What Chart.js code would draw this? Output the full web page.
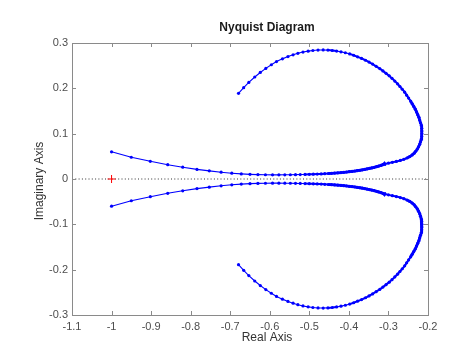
<!DOCTYPE html>
<html><head><meta charset="utf-8">
<script src="https://cdn.jsdelivr.net/npm/chart.js@4/dist/chart.umd.min.js"></script>
<style>html,body{margin:0;padding:0;background:#fff}</style>
</head><body>
<canvas id="c" width="474" height="355"></canvas>
<script>
// ---- data ----
const xTickValues = [-1.1, -1.0, -0.9, -0.8, -0.7, -0.6, -0.5, -0.4, -0.3, -0.2];
const yTickValues = [-0.3, -0.2, -0.1, 0, 0.1, 0.2, 0.3];

// upper branch (positive imaginary part)
const reUpper = [
 -1.000, -0.950, -0.902, -0.858, -0.820, -0.784, -0.753, -0.723, -0.696, -0.672,
 -0.650, -0.630, -0.611, -0.593, -0.577, -0.562, -0.548, -0.535, -0.523, -0.511,
 -0.500, -0.490, -0.480, -0.470, -0.461, -0.452, -0.444, -0.436, -0.428, -0.420,
 -0.413, -0.406, -0.399, -0.392, -0.385, -0.379, -0.372, -0.366, -0.360, -0.354,
 -0.348, -0.342, -0.336, -0.330, -0.325, -0.319, -0.314, -0.309,
 -0.300, -0.290, -0.280, -0.270, -0.261, -0.253, -0.246, -0.240, -0.235, -0.231,
 -0.227, -0.224, -0.221, -0.219, -0.217, -0.216, -0.2155, -0.2155, -0.216, -0.217,
 -0.219, -0.221, -0.223, -0.226, -0.229, -0.232, -0.236, -0.240, -0.244, -0.249,
 -0.254, -0.259, -0.265, -0.271, -0.277, -0.284, -0.291, -0.298, -0.306, -0.314,
 -0.322, -0.331, -0.340, -0.349, -0.358, -0.368, -0.378, -0.388, -0.398, -0.409,
 -0.420, -0.431, -0.442, -0.453, -0.465, -0.478, -0.491, -0.503, -0.516, -0.529,
 -0.541, -0.554, -0.568, -0.583, -0.596, -0.610, -0.624, -0.638, -0.653, -0.666,
 -0.679
];
const imUpper = [
 0.0600, 0.0480, 0.0390, 0.0315, 0.0260, 0.0212, 0.0180, 0.0150, 0.0128, 0.0113,
 0.0103, 0.0097, 0.0094, 0.0092, 0.0092, 0.0093, 0.0094, 0.0096, 0.0098, 0.0100,
 0.0103, 0.0106, 0.0109, 0.0113, 0.0117, 0.0121, 0.0126, 0.0131, 0.0136, 0.0142,
 0.0148, 0.0154, 0.0161, 0.0168, 0.0176, 0.0184, 0.0193, 0.0202, 0.0212, 0.0222,
 0.0233, 0.0245, 0.0258, 0.0271, 0.0285, 0.0300, 0.0316, 0.0332,
 0.0350, 0.0368, 0.0388, 0.0410, 0.0435, 0.0463, 0.0495, 0.0530, 0.0570, 0.0612,
 0.0660, 0.0710, 0.0765, 0.0820, 0.0880, 0.0940, 0.1000, 0.1060, 0.1120, 0.1180,
 0.1240, 0.1300, 0.1360, 0.1420, 0.1480, 0.1540, 0.1600, 0.1660, 0.1720, 0.1785,
 0.1850, 0.1915, 0.1980, 0.2040, 0.2100, 0.2160, 0.2220, 0.2275, 0.2330, 0.2385,
 0.2435, 0.2485, 0.2535, 0.2580, 0.2620, 0.2660, 0.2695, 0.2730, 0.2760, 0.2785,
 0.2805, 0.2822, 0.2835, 0.2843, 0.2847, 0.2845, 0.2835, 0.2820, 0.2800, 0.2772,
 0.2740, 0.2700, 0.2650, 0.2590, 0.2520, 0.2440, 0.2350, 0.2250, 0.2130, 0.2015,
 0.1890
];

// lower branch (negative imaginary part)
const reLower = [
 -1.000, -0.950, -0.902, -0.858, -0.820, -0.784, -0.753, -0.723, -0.696, -0.672,
 -0.650, -0.630, -0.611, -0.593, -0.577, -0.562, -0.548, -0.535, -0.523, -0.511,
 -0.500, -0.490, -0.480, -0.470, -0.461, -0.452, -0.444, -0.436, -0.428, -0.420,
 -0.413, -0.406, -0.399, -0.392, -0.385, -0.379, -0.372, -0.366, -0.360, -0.354,
 -0.348, -0.342, -0.336, -0.330, -0.325, -0.319, -0.314, -0.309,
 -0.300, -0.290, -0.280, -0.270, -0.261, -0.253, -0.246, -0.240, -0.235, -0.231,
 -0.227, -0.224, -0.221, -0.219, -0.217, -0.216, -0.2155, -0.2155, -0.216, -0.217,
 -0.219, -0.221, -0.223, -0.226, -0.229, -0.232, -0.236, -0.240, -0.244, -0.249,
 -0.254, -0.259, -0.265, -0.271, -0.277, -0.284, -0.291, -0.298, -0.306, -0.314,
 -0.322, -0.331, -0.340, -0.349, -0.358, -0.368, -0.378, -0.388, -0.398, -0.409,
 -0.420, -0.431, -0.442, -0.453, -0.465, -0.478, -0.491, -0.503, -0.516, -0.529,
 -0.541, -0.554, -0.568, -0.583, -0.596, -0.610, -0.624, -0.638, -0.653, -0.666,
 -0.679
];
const imLower = [
 -0.0600, -0.0480, -0.0390, -0.0315, -0.0260, -0.0212, -0.0180, -0.0150, -0.0128, -0.0113,
 -0.0103, -0.0097, -0.0094, -0.0092, -0.0092, -0.0093, -0.0094, -0.0096, -0.0098, -0.0100,
 -0.0103, -0.0106, -0.0109, -0.0113, -0.0117, -0.0121, -0.0126, -0.0131, -0.0136, -0.0142,
 -0.0148, -0.0154, -0.0161, -0.0168, -0.0176, -0.0184, -0.0193, -0.0202, -0.0212, -0.0222,
 -0.0233, -0.0245, -0.0258, -0.0271, -0.0285, -0.0300, -0.0316, -0.0332,
 -0.0350, -0.0368, -0.0388, -0.0410, -0.0435, -0.0463, -0.0495, -0.0530, -0.0570, -0.0612,
 -0.0660, -0.0710, -0.0765, -0.0820, -0.0880, -0.0940, -0.1000, -0.1060, -0.1120, -0.1180,
 -0.1240, -0.1300, -0.1360, -0.1420, -0.1480, -0.1540, -0.1600, -0.1660, -0.1720, -0.1785,
 -0.1850, -0.1915, -0.1980, -0.2040, -0.2100, -0.2160, -0.2220, -0.2275, -0.2330, -0.2385,
 -0.2435, -0.2485, -0.2535, -0.2580, -0.2620, -0.2660, -0.2695, -0.2730, -0.2760, -0.2785,
 -0.2805, -0.2822, -0.2835, -0.2843, -0.2847, -0.2845, -0.2835, -0.2820, -0.2800, -0.2772,
 -0.2740, -0.2700, -0.2650, -0.2590, -0.2520, -0.2440, -0.2350, -0.2250, -0.2130, -0.2015,
 -0.1890
];

const criticalRe = [-1];
const criticalIm = [0];
const arrowRe = [-0.311, -0.311];
const arrowIm = [0.0335, -0.0335];
const zeroLineRe = [-1.1, -0.2];
const zeroLineIm = [0, 0];

const titleText = 'Nyquist Diagram';
const xLabelText = 'Real Axis';
const yLabelText = 'Imaginary Axis';

// ---- chart ----
const FONT = '"Liberation Sans", Arial, Helvetica, sans-serif';
const toPts = (xs, ys) => xs.map((x, i) => ({x: x, y: ys[i]}));
const fmt = v => String(+(+v).toFixed(2));
// where the sampled points crowd together the trace reads as a thick band
const segWidth = ctx => {
  const d = Math.hypot(ctx.p1.x - ctx.p0.x, ctx.p1.y - ctx.p0.y);
  return d < 3.2 ? 2.8 : (d < 4.4 ? 2.0 : 1.1);
};

const framePlugin = {
  id: 'frame',
  afterDraw(chart) {
    const {ctx, chartArea: a, scales} = chart;
    ctx.save();
    ctx.strokeStyle = '#8a8a8a';
    ctx.lineWidth = 1;
    ctx.strokeRect(Math.round(a.left) + 0.5, Math.round(a.top) + 0.5,
                   Math.round(a.right - a.left), Math.round(a.bottom - a.top));
    const tl = 4;
    ctx.beginPath();
    xTickValues.forEach(v => {
      const px = Math.round(scales.x.getPixelForValue(v)) + 0.5;
      ctx.moveTo(px, a.bottom); ctx.lineTo(px, a.bottom - tl);
      ctx.moveTo(px, a.top); ctx.lineTo(px, a.top + tl);
    });
    yTickValues.forEach(v => {
      const py = Math.round(scales.y.getPixelForValue(v)) + 0.5;
      ctx.moveTo(a.left, py); ctx.lineTo(a.left + tl, py);
      ctx.moveTo(a.right, py); ctx.lineTo(a.right - tl, py);
    });
    ctx.stroke();

    ctx.fillStyle = '#1a1a1a';
    ctx.textAlign = 'center';
    ctx.textBaseline = 'middle';
    ctx.font = 'bold 12px ' + FONT;
    ctx.fillText(titleText, 267, 27.5);
    ctx.fillStyle = '#333';
    ctx.font = '12px ' + FONT;
    ctx.fillText(xLabelText, 267, 337.5);
    ctx.translate(40, 181);
    ctx.rotate(-Math.PI / 2);
    ctx.fillText(yLabelText, 0, 0);
    ctx.restore();
  }
};

const branchStyle = {
  showLine: true, borderColor: '#0000ff', borderWidth: 1.1, tension: 0,
  pointRadius: 1.6, pointBackgroundColor: '#0000ff', pointBorderWidth: 0, order: 2,
  segment: {borderWidth: segWidth}
};

new Chart(document.getElementById('c'), {
  type: 'scatter',
  data: {
    datasets: [
      {
        data: toPts(zeroLineRe, zeroLineIm),
        showLine: true, borderColor: '#333', borderWidth: 1,
        borderDash: [1, 2.3], pointRadius: 0, order: 5
      },
      Object.assign({data: toPts(reUpper, imUpper)}, branchStyle),
      Object.assign({data: toPts(reLower, imLower)}, branchStyle),
      {
        data: toPts(arrowRe, arrowIm),
        showLine: false, pointStyle: 'triangle', pointRadius: 3,
        pointRotation: [-105, -75],
        pointBackgroundColor: '#0000ff', pointBorderColor: '#0000ff', pointBorderWidth: 0, order: 1
      },
      {
        data: toPts(criticalRe, criticalIm),
        showLine: false, pointStyle: 'cross', pointRadius: 4,
        pointBorderColor: '#ff0000', pointBorderWidth: 1, order: 0
      }
    ]
  },
  options: {
    responsive: false,
    animation: false,
    devicePixelRatio: 1,
    layout: {padding: {top: 43, right: 46, bottom: 0, left: 0}},
    plugins: {legend: {display: false}, tooltip: {enabled: false}, title: {display: false}},
    scales: {
      x: {
        type: 'linear', min: -1.1, max: -0.2,
        afterBuildTicks: s => { s.ticks = xTickValues.map(v => ({value: v})); },
        afterFit: s => { s.height = 40; },
        grid: {display: false, drawTicks: false},
        border: {display: false},
        ticks: {callback: fmt, color: '#4d4d4d', font: {family: FONT, size: 11}, padding: 5, maxRotation: 0, autoSkip: false}
      },
      y: {
        type: 'linear', min: -0.3, max: 0.3,
        afterBuildTicks: s => { s.ticks = yTickValues.map(v => ({value: v})); },
        afterFit: s => { s.width = 72; },
        grid: {display: false, drawTicks: false},
        border: {display: false},
        ticks: {callback: fmt, color: '#4d4d4d', font: {family: FONT, size: 11}, padding: 4, autoSkip: false}
      }
    }
  },
  plugins: [framePlugin]
});
</script>
</body></html>
